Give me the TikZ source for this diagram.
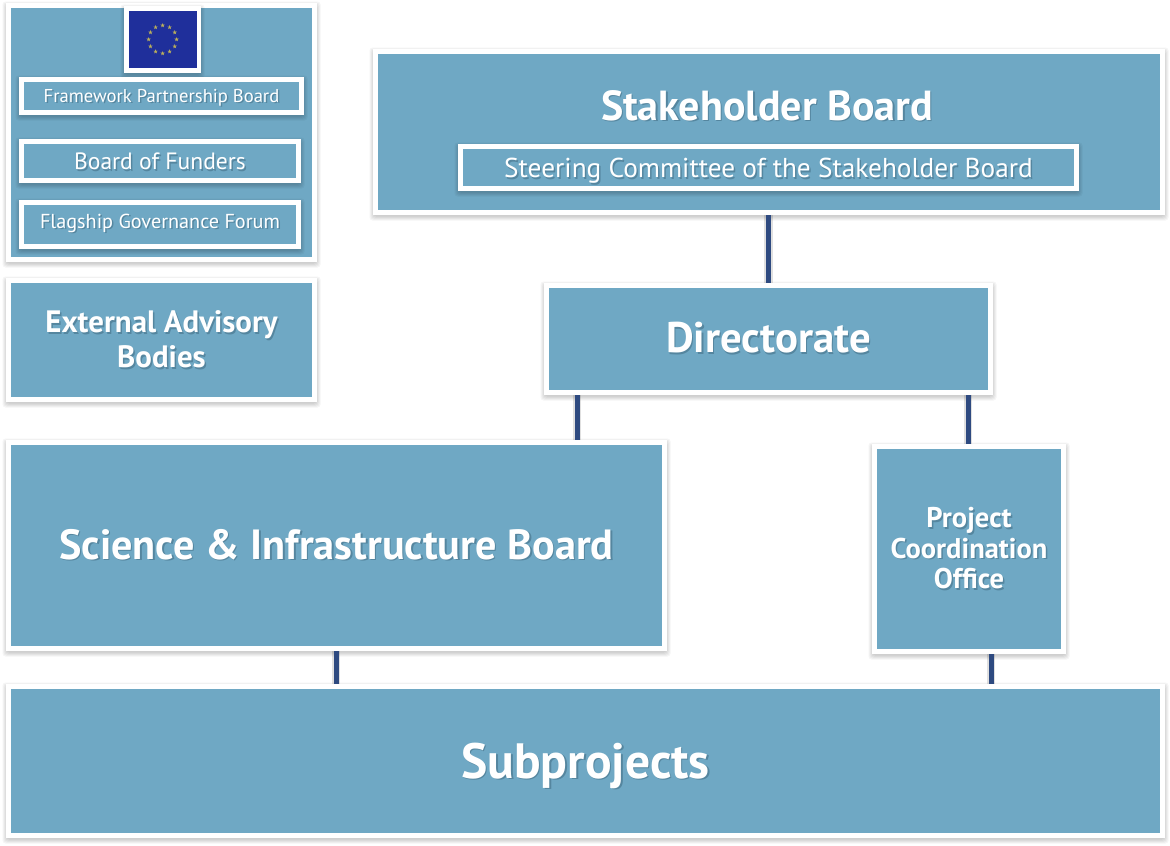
\documentclass[tikz,border=0pt]{standalone}
\usepackage{fontspec}
\setmainfont{PT Sans}
\usetikzlibrary{shapes.geometric}
\definecolor{boxblue}{HTML}{6FA8C4}
\definecolor{linkblue}{HTML}{2E4A80}
\definecolor{flagblue}{HTML}{1F2F9B}
\definecolor{stargold}{HTML}{B9AE5C}
\definecolor{txtshadow}{HTML}{55869F}
\newcommand{\shtxt}[1]{\leavevmode\rlap{\kern1.5pt\raisebox{-1.5pt}{\textcolor{txtshadow}{#1}}}#1}
\newcommand{\oneln}[2]{\smash{\raisebox{-#1pt}{\shtxt{#2}}}}
\newcommand{\fsz}[2]{\fontsize{#1}{#2}\selectfont}
\tikzset{
  x=1pt,y=-1pt,
  outerbox/.style={draw=white,line width=5pt,fill=boxblue,inner sep=0pt,text=white,align=center},
  haze/.style={fill=black,fill opacity=0.04,rounded corners=3pt},
  link/.style={draw=linkblue,line width=5pt,preaction={draw=black,draw opacity=0.12,line width=8.5pt}},
}
\newcommand{\bx}[7][]{%
  \foreach \k in {3.5,2.5,1.5,0.5,-0.5} \fill[haze] ({#3-\k},{#4-\k+2}) rectangle ({#5+\k},{#6+\k+2});
  \node[outerbox,#1,minimum width={(#5-#3-5)*1pt},minimum height={(#6-#4-5)*1pt}] (#2) at ({(#3+#5)/2},{(#4+#6)/2}) {#7};
}
\begin{document}
\begin{tikzpicture}
\useasboundingbox (0,0) rectangle (1170,846);
\fill[white] (0,0) rectangle (1170,846);
\bx{eubox}{6}{3}{317}{262}{}
\bx{flag}{124}{6}{201}{73}{}
\fill[flagblue] (129,11) rectangle (197,68);
\foreach \i in {1,...,12}
  \node[star,star points=5,star point ratio=2.4,fill=stargold,inner sep=0pt,minimum size=4.6pt] (st\i) at ({162.6+14*cos(\i*30)},{39.4+14*sin(\i*30)}) {};
\bx[font=\fsz{18.6}{22}]{fpb}{19}{77}{304}{115}{\oneln{6}{Framework Partnership Board}}
\bx[font=\fsz{23.6}{28}]{bof}{19}{139}{301}{183}{\oneln{8.5}{Board of Funders}}
\bx[font=\fsz{20.2}{24}]{fgf}{19}{200}{301}{249}{\oneln{3.5}{Flagship Governance Forum}}
\bx[font=\fsz{30.9}{35}\bfseries]{ext}{6}{278}{317}{402}{\shtxt{External Advisory}\\\shtxt{Bodies}}
\bx{stake}{373}{49}{1165}{215}{}
\node[text=white,inner sep=0pt,font=\fsz{42}{48}\bfseries] (staket) at (767,105) {\oneln{15}{Stakeholder Board}};
\bx[font=\fsz{27.3}{32}]{steer}{458}{144}{1079}{191}{\oneln{10}{Steering Committee of the Stakeholder Board}}
\bx[font=\fsz{42.8}{48}\bfseries]{dir}{544}{283}{993}{395}{\oneln{13.5}{Directorate}}
\bx[font=\fsz{42.2}{48}\bfseries]{sci}{6}{440}{667}{651}{\oneln{13.5}{Science \& Infrastructure Board}}
\bx[font=\fsz{28.5}{30.5}\bfseries]{pco}{872}{444}{1066}{654}{\shtxt{Project}\\\shtxt{Coordination}\\\shtxt{Office}}
\bx[font=\fsz{49.6}{56}\bfseries]{sub}{6}{684}{1165}{838}{\oneln{17}{Subprojects}}
\coordinate (c1) at (768.5,0);
\coordinate (c2) at (577,0);
\coordinate (c3) at (968,0);
\coordinate (c4) at (336,0);
\coordinate (c5) at (991,0);
\draw[link] (stake.south -| c1) -- (dir.north -| c1);
\draw[link] (dir.south -| c2) -- (sci.north -| c2);
\draw[link] (dir.south -| c3) -- (pco.north -| c3);
\draw[link] (sci.south -| c4) -- (sub.north -| c4);
\draw[link] (pco.south -| c5) -- (sub.north -| c5);
\end{tikzpicture}
\end{document}
